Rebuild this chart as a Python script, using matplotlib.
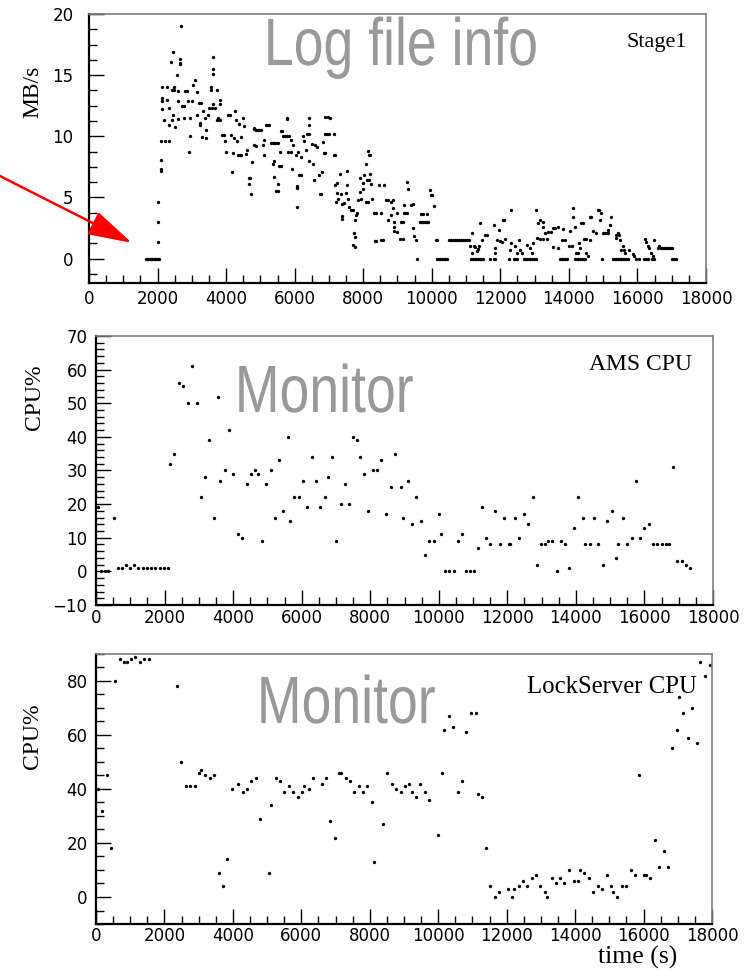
import matplotlib
matplotlib.use("Agg")
import matplotlib.pyplot as plt
from matplotlib.ticker import MultipleLocator
from matplotlib.textpath import TextPath
from matplotlib.patches import PathPatch
from matplotlib.font_manager import FontProperties
from matplotlib.transforms import Affine2D

#---------------------------------------
# data
#---------------------------------------

# Stage1 transfer rate (MB/s) vs time (s)
stage_t = [
    1650, 1690, 1730, 1770, 1810, 1850, 1890, 1930, 1970, 2010,
    2050, 2019, 2019, 2019, 2087, 2087, 2087, 2087, 2135, 2135,
    2135, 2135, 2202, 2231, 2288, 2288, 2327, 2327, 2346, 2404,
    2423, 2423, 2442, 2461, 2471, 2471, 2519, 2577, 2586, 2586,
    2586, 2644, 2644, 2644, 2692, 2711, 2760, 2760, 2808, 2856,
    2885, 2904, 2933, 2961, 3000, 3048, 3096, 3144, 3163, 3221,
    3269, 3240, 3240, 3288, 3336, 3385, 3413, 3423, 3481, 3510,
    3548, 3548, 3577, 3606, 3606, 3606, 3625, 3673, 3721, 3721,
    3769, 3817, 3817, 3817, 3885, 3933, 3961, 4000, 4058, 4106,
    4154, 4183, 4202, 4231, 4269, 4298, 4327, 4346, 4394, 4442,
    4365, 4442, 4490, 4519, 4586, 4615, 4654, 4702, 4683, 4731,
    4750, 4808, 4827, 4875, 4923, 4971, 5019, 4808, 4875, 5067,
    5115, 5115, 5163, 5211, 5260, 5308, 5356, 5404, 5452, 5500,
    5356, 5385, 5385, 5452, 5500, 5500, 5548, 5596, 5577, 5596,
    5644, 5673, 5721, 5769, 5836, 5769, 5788, 5817, 5885, 5885,
    5933, 5961, 6029, 6077, 6077, 6077, 6106, 6125, 6173, 6173,
    6250, 6269, 6317, 6365, 6413, 6413, 6413, 6433, 6510, 6538,
    6557, 6606, 6654, 6702, 6731, 6769, 6798, 6827, 6846, 6894,
    6942, 6990, 6894, 6961, 7038, 6894, 7134, 7134, 7183, 7183,
    7211, 7231, 7250, 7279, 7327, 7356, 7384, 7394, 7394, 7442,
    7490, 7519, 7519, 7567, 7596, 7634, 7692, 7711, 7759, 7731,
    7759, 7759, 7788, 7827, 7836, 7903, 7903, 7932, 7980, 8000,
    8029, 8077, 8096, 8144, 8115, 8173, 8144, 8173, 8211, 8211,
    8240, 8269, 8317, 8365, 8336, 8384, 8461, 8522, 8570, 8619,
    8522, 8667, 8715, 8715, 8812, 8860, 8812, 8860, 8908, 8908,
    8908, 8976, 8986, 9073, 9150, 9102, 9169, 9179, 9218, 9179,
    9276, 9295, 9276, 9391, 9440, 9440, 9488, 9536, 9565, 9662,
    9710, 9758, 9806, 9855, 9900, 9681, 9758, 9855, 9952, 9971,
    10019, 10068, 10116, 10164, 10150, 10200, 10250, 10300, 10350, 10400,
    10450, 10500, 10560, 10620, 10680, 10740, 10800, 10860, 10920, 10980,
    11040, 11100, 11130, 11150, 11200, 11250, 11300, 11350, 11400, 11450,
    11500, 11178, 11178, 11227, 11275, 11323, 11352, 11372, 11420, 11468,
    11565, 11613, 11710, 11806, 11855, 11806, 11855, 11855, 11903, 11951,
    12000, 12048, 12300, 12077, 12116, 12145, 12241, 12289, 12309, 12386,
    12434, 12483, 12434, 12483, 12531, 12579, 12628, 12680, 12730, 12780,
    12830, 12880, 12930, 12980, 13030, 12772, 12869, 12917, 12966, 13043,
    13062, 13159, 13255, 13352, 13111, 13159, 13236, 13255, 13304, 13400,
    13468, 13526, 13594, 13690, 13545, 13690, 13738, 13787, 13835, 13883,
    13932, 13787, 13883, 13835, 14009, 14077, 14028, 14125, 14125, 14173,
    14221, 14270, 14180, 14230, 14280, 14330, 14380, 14430, 14480, 14299,
    14318, 14366, 14415, 14434, 14511, 14492, 14560, 14608, 14656, 14627,
    14705, 14801, 14849, 14878, 14898, 14946, 14975, 15000, 15050, 15100,
    15150, 15139, 15187, 15236, 15284, 15332, 15381, 15429, 15477, 15526,
    15574, 15622, 15670, 15361, 15361, 15429, 15477, 15458, 15526, 15574,
    15622, 15651, 15719, 15767, 15864, 15912, 15960, 16057, 16202, 16250,
    16298, 16231, 16250, 16298, 16347, 16395, 16424, 16492, 16492, 16443,
    16588, 16617, 16680, 16730, 16780, 16830, 16880, 16930, 16980, 17020,
    17023, 17071, 17119,
]
stage_mbs = [
    0, 0, 0, 0, 0, 0, 0, 0, 0, 0,
    0, 1.35, 3.0, 4.6, 7.2, 7.35, 8.1, 9.6, 12.2, 12.9,
    13.1, 14.0, 11.35, 9.65, 14.0, 13.0, 9.65, 12.35, 10.9, 16.1,
    13.75, 11.3, 11.7, 16.9, 14.0, 13.8, 10.8, 15.05, 13.7, 12.9,
    11.4, 16.3, 16.0, 15.9, 19.0, 12.5, 12.5, 11.5, 13.7, 13.7,
    12.9, 8.7, 11.5, 10.05, 12.9, 14.2, 14.6, 11.7, 13.6, 12.7,
    12.7, 11.1, 10.95, 9.97, 12.1, 11.5, 10.5, 9.9, 11.7, 12.35,
    14.0, 13.8, 12.35, 16.5, 15.5, 15.1, 12.6, 12.35, 13.8, 11.35,
    11.5, 11.35, 12.95, 12.6, 10.1, 10.1, 9.6, 8.75, 11.7, 11.7,
    10.1, 7.1, 8.6, 9.9, 12.1, 11.3, 9.6, 8.45, 8.45, 8.45,
    11.0, 9.97, 11.5, 10.85, 8.55, 8.9, 6.6, 6.6, 6.1, 5.25,
    7.9, 10.7, 10.6, 10.5, 10.5, 10.5, 10.5, 9.25, 9.2, 9.3,
    8.45, 9.7, 10.95, 10.95, 10.95, 9.45, 9.45, 9.45, 9.45, 9.45,
    7.75, 8.0, 6.7, 5.55, 5.55, 6.1, 7.6, 7.6, 8.7, 10.45,
    10.45, 10.0, 10.0, 10.0, 10.0, 11.4, 11.5, 8.7, 8.7, 9.7,
    7.35, 9.3, 8.5, 5.9, 5.75, 4.25, 8.7, 6.8, 6.8, 8.3,
    10.0, 9.65, 8.85, 10.15, 10.15, 10.95, 8.0, 11.5, 9.4, 7.75,
    6.4, 9.3, 9.1, 6.8, 5.3, 5.3, 7.1, 9.5, 8.65, 10.2,
    10.2, 10.2, 11.55, 11.55, 11.5, 8.6, 10.2, 8.45, 8.45, 6.05,
    4.6, 6.2, 5.4, 4.85, 6.95, 5.3, 4.45, 3.5, 3.2, 4.55,
    5.35, 7.2, 6.0, 4.9, 4.25, 3.95, 3.95, 1.15, 0.95, 2.1,
    1.8, 3.15, 3.55, 3.7, 4.8, 6.55, 5.45, 4.9, 6.15, 5.7,
    6.8, 7.7, 4.65, 4.65, 6.4, 6.4, 8.8, 8.45, 8.45, 6.95,
    6.1, 4.9, 3.7, 3.7, 1.4, 1.4, 6.05, 1.55, 1.55, 6.0,
    3.7, 4.78, 4.78, 3.16, 4.65, 4.78, 3.57, 4.1, 3.03, 2.6,
    2.22, 2.16, 3.7, 1.6, 1.6, 3.03, 3.03, 3.7, 3.7, 4.38,
    6.27, 5.68, 3.7, 4.38, 4.46, 2.49, 1.81, 1.54, 0, 3.03,
    3.03, 3.03, 3.03, 3.03, 3.03, 3.65, 3.65, 3.65, 5.6, 5.19,
    5.19, 4.3, 1.54, 1.54, 0, 0, 0, 0, 0, 0,
    0, 1.54, 1.54, 1.54, 1.54, 1.54, 1.54, 1.54, 1.54, 1.54,
    1.54, 1.54, 1.0, 0, 0, 0, 0, 0, 0, 0,
    0, 2.08, 0.46, 1.0, 0.95, 0.6, 0.78, 1.0, 2.89, 1.49,
    1.95, 1.95, 0, 0, 0, 2.76, 0.86, 0.46, 1.49, 2.35,
    1.4, 1.32, 3.97, 3.16, 3.16, 1.6, 0, 0.73, 1.27, 0,
    0, 0, 1.0, 0.46, 1.54, 0.73, 0.46, 0, 0, 0,
    0, 0, 0, 0, 0, 1.14, 0.86, 0.46, 1.27, 3.97,
    1.68, 1.6, 1.6, 1.6, 2.95, 3.16, 3.03, 2.62, 2.08, 2.14,
    2.14, 2.49, 2.49, 2.57, 0.95, 0.86, 0, 0, 0, 0,
    0, 1.54, 1.54, 2.4, 1.0, 1.0, 2.22, 4.1, 3.43, 2.62,
    0.46, 0.46, 0, 0, 0, 0, 0, 0, 0, 1.27,
    0.86, 2.89, 2.95, 1.6, 1.6, 0.46, 0.24, 3.43, 3.43, 1.54,
    2.22, 2.08, 3.97, 3.97, 3.16, 3.7, 0, 2.08, 2.08, 2.08,
    2.08, 2.35, 2.76, 3.43, 0, 0, 0, 0, 0, 0,
    0, 0, 0, 1.95, 1.68, 2.08, 1.54, 1.95, 0.73, 1.0,
    0.73, 0.46, 0, 0.68, 0.4, 0.19, 0, 0, 0, 0,
    0, 1.6, 1.35, 1.05, 0.86, 0.46, 0, 0, 1.54, 0.19,
    0.86, 1.0, 0.86, 0.86, 0.86, 0.86, 0.86, 0.86, 0.86, 0.86,
    0, 0, 0,
]

# AMS CPU (%) vs time (s)
ams_t = [
    60, 150, 250, 350, 513, 630, 755, 880, 1000, 1120,
    1240, 1365, 1480, 1607, 1733, 1858, 1984, 2110,
    2160, 2285, 2420, 2546, 2672, 2797, 2933, 3059, 3185, 3311,
    3436, 3562, 3630, 3756, 3882, 4008, 4133, 4259, 4395, 4521,
    4646, 4714, 4840, 4966, 5092, 5218, 5343, 5469, 5595, 5663,
    5789, 5914, 6040, 6166, 6292, 6418, 6544, 6670, 6757, 6873,
    7008, 7134, 7250, 7376, 7502, 7628, 7696, 7821, 7947, 8073,
    8199, 8325, 8450, 8596, 8722, 8885, 8962, 9098, 9224, 9340,
    9476, 9602, 9728, 9854, 10000, 10058, 10194, 10310, 10437, 10563,
    10679, 10805, 10922, 11019, 11145, 11261, 11387, 11504, 11649, 11775,
    11892, 12037, 12085, 12212, 12348, 12474, 12600, 12735, 12862, 12988,
    13104, 13182, 13317, 13444, 13560, 13686, 13812, 13958, 14074, 14200,
    14268, 14414, 14530, 14656, 14782, 14918, 15044, 15170, 15219, 15364,
    15500, 15626, 15742, 15868, 15995, 16130, 16257, 16373, 16500, 16615,
    16722, 16819, 16955, 17081, 17207, 17324,
]
ams_cpu = [
    19, 0, 0, 0, 16, 1, 1, 2, 1, 2,
    1, 1, 1, 1, 1, 1, 1, 1,
    32, 35, 56, 55, 50, 61, 50, 22, 28, 39,
    16, 52, 27, 30, 42, 29, 11, 10, 26, 29,
    30, 29, 9, 26, 30, 16, 33, 18, 40, 15,
    22, 22, 27, 19, 34, 27, 19, 22, 28, 34,
    9, 20, 26, 20, 40, 39, 34, 29, 18, 30,
    30, 33, 17, 25, 35, 25, 16, 27, 14, 22,
    15, 5, 9, 9, 17, 11, 0, 0, 0, 9,
    11, 0, 0, 0, 7, 19, 10, 8, 18, 8,
    16, 8, 8, 16, 10, 17, 14, 22, 2, 8,
    8, 9, 9, 0, 9, 8, 1, 13, 22, 16,
    8, 8, 16, 8, 2, 15, 18, 4, 8, 16,
    8, 10, 27, 10, 13, 14, 8, 8, 8, 8,
    8, 31, 3, 3, 2, 1,
]

# LockServer CPU (%) vs time (s)
lock_t = [
    58, 175, 321, 448, 565, 711, 828, 906, 1023, 1149,
    1276, 1393, 1539, 2367, 2493, 2620, 2756, 2883, 3010, 3078,
    3195, 3321, 3448, 3584, 3711, 3838, 3964, 4159, 4286, 4412,
    4539, 4665, 4802, 5065, 5123, 5250, 5376, 5503, 5630, 5756,
    5893, 6019, 6088, 6214, 6341, 6594, 6721, 6847, 6984, 7100,
    7169, 7295, 7422, 7549, 7675, 7811, 7928, 8065, 8133, 8386,
    8513, 8649, 8776, 8900, 9027, 9153, 9222, 9338, 9475, 9601,
    9728, 10000, 10107, 10175, 10302, 10428, 10564, 10691, 10817, 10944,
    11090, 11148, 11265, 11391, 11518, 11644, 11771, 12024, 12160, 12218,
    12364, 12481, 12597, 12734, 12861, 12987, 13114, 13191, 13318, 13454,
    13571, 13687, 13834, 13960, 14087, 14145, 14272, 14398, 14534, 14660,
    14787, 14923, 15050, 15108, 15235, 15371, 15498, 15624, 15751, 15877,
    16003, 16071, 16198, 16325, 16451, 16587, 16714, 16840, 16977, 17036,
    17162, 17288, 17415, 17551, 17640, 17804, 17930,
]
lock_cpu = [
    40, 32, 45, 18, 80, 88, 87, 87, 88, 89,
    87, 88, 88, 78, 50, 41, 41, 41, 46, 47,
    45, 44, 45, 9, 4, 14, 40, 42, 39, 40,
    43, 44, 29, 9, 34, 44, 43, 39, 41, 39,
    37, 39, 41, 40, 44, 42, 44, 28, 22, 46,
    46, 44, 43, 39, 41, 39, 41, 35, 13, 27,
    46, 42, 40, 39, 41, 42, 39, 37, 42, 39,
    36, 23, 46, 62, 67, 63, 39, 43, 61, 68,
    68, 38, 37, 18, 4, 0, 2, 3, 0, 3,
    4, 6, 4, 7, 8, 4, 2, 0, 7, 5,
    7, 5, 10, 6, 6, 10, 9, 7, 2, 4,
    3, 8, 4, 2, 0, 4, 4, 10, 8, 45,
    8, 8, 7, 21, 11, 17, 11, 55, 62, 74,
    68, 59, 70, 57, 87, 82, 86,
]

serif = "Liberation Serif"
watermark_grey = "#999999"
FIG_H = 971


def style_frame(ax, ymin, ymax, ymajor, yminor, ypad, xpad):
    ax.set_xlim(0, 18000)
    ax.set_ylim(ymin, ymax)
    ax.xaxis.set_major_locator(MultipleLocator(2000))
    ax.xaxis.set_minor_locator(MultipleLocator(500))
    ax.yaxis.set_major_locator(MultipleLocator(ymajor))
    ax.yaxis.set_minor_locator(MultipleLocator(yminor))
    ax.tick_params(which="both", direction="in", top=False, right=False,
                   labelsize=12, width=1, color="black")
    ax.tick_params(which="major", length=10.5)
    ax.tick_params(which="minor", length=5.5)
    ax.tick_params(axis="y", pad=ypad)
    ax.tick_params(axis="x", pad=xpad)
    for side in ["left", "bottom"]:
        ax.spines[side].set_linewidth(1.6)
        ax.spines[side].set_color("black")
    for side in ["top", "right"]:
        ax.spines[side].set_linewidth(1.2)
        ax.spines[side].set_color("#808080")


def watermark(text, cx, baseline):
    # big condensed grey label, squeezed sideways since no narrow font is installed
    tp = TextPath((0, 0), text, size=67, prop=FontProperties(family="Liberation Sans"))
    ext = tp.get_extents()
    tr = (Affine2D().translate(-(ext.x0 + ext.x1) / 2, 0).scale(0.80, 1)
          .translate(cx, FIG_H - baseline))
    fig.add_artist(PathPatch(tp, transform=tr, facecolor=watermark_grey, lw=0, zorder=0.5))


fig = plt.figure(figsize=(7.47, 9.71), dpi=100)

#**********************************
# Stage1 panel
#**********************************
ax1 = fig.add_axes([0.1191, 0.7085, 0.8260, 0.2771])
ax1.plot(stage_t, stage_mbs, linestyle="none", marker="o", ms=2.4, mew=0, color="black")
style_frame(ax1, -2, 20, 5, 1.25, 11, 5)
watermark("Log file info", 402, 65)
fig.text(0.920, 0.952, "Stage1", family=serif, fontsize=16, ha="right", va="baseline")
fig.text(0.044, 0.905, "MB/s", family=serif, fontsize=17, rotation=90, ha="center", va="center")

# red arrow pointing at the empty start
ax1.annotate("", xy=(132, FIG_H - 243), xycoords="figure pixels",
             xytext=(0, FIG_H - 176), textcoords="figure pixels",
             arrowprops=dict(arrowstyle="-|>,head_length=1.14,head_width=0.32",
                             color="red", lw=1.8, mutation_scale=24,
                             shrinkA=0, shrinkB=0),
             annotation_clip=False)

#**********************************
# AMS CPU panel
#**********************************
ax2 = fig.add_axes([0.1285, 0.3769, 0.8260, 0.2771])
ax2.plot(ams_t, ams_cpu, linestyle="none", marker="o", ms=2.4, mew=0, color="black")
style_frame(ax2, -10, 70, 10, 2, 6, 3)
watermark("Monitor", 326, 412)
fig.text(0.926, 0.619, "AMS CPU", family=serif, fontsize=17, ha="right", va="baseline")
fig.text(0.046, 0.591, "CPU%", family=serif, fontsize=17, rotation=90, ha="center", va="center")

#**********************************
# LockServer CPU panel
#**********************************
ax3 = fig.add_axes([0.1285, 0.0484, 0.8247, 0.2781])
ax3.plot(lock_t, lock_cpu, linestyle="none", marker="o", ms=2.4, mew=0, color="black")
style_frame(ax3, -10, 90, 20, 5, 6, 2)
watermark("Monitor", 348, 723)
fig.text(0.933, 0.2863, "LockServer CPU", family=serif, fontsize=17.8, ha="right", va="baseline")
fig.text(0.044, 0.242, "CPU%", family=serif, fontsize=17, rotation=90, ha="center", va="center")
fig.text(0.853, 0.008, "time (s)", family=serif, fontsize=18.5, ha="center", va="baseline")

fig.savefig("out.png", dpi=100)
